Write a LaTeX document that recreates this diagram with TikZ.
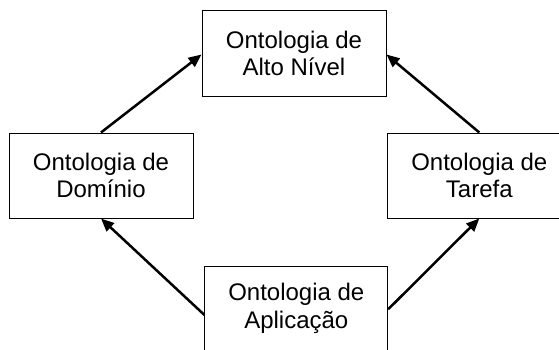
\documentclass[tikz,border=0pt]{standalone}
\usepackage{fontspec}
\setmainfont{Liberation Sans}
\usetikzlibrary{arrows.meta}
\begin{document}
\begin{tikzpicture}[x=1pt,y=1pt,
  box/.style={draw=black, line width=1pt, minimum width=184pt, minimum height=85pt,
    inner sep=0pt, align=center, font=\fontsize{24pt}{27.5pt}\selectfont},
  arr/.style={line width=2.5pt, -{Triangle[length=13pt,width=11pt]}}]
\useasboundingbox (0,0) rectangle (559,349);
\clip (0,0) rectangle (559,349);
\node[box] (top) at (294,295.5) {Ontologia de\\Alto Nível};
\node[box] (left) at (101,173.5) {Ontologia de\\Domínio};
\node[box] (right) at (479.3,173.5) {Ontologia de\\Tarefa};
\node[box, minimum width=182.7pt] (bot) at (296.3,40.5) {Ontologia de\\Aplicação};
\draw[arr] (left.north) -- ([yshift=-1pt]top.west);
\draw[arr] (right.north) -- ([yshift=-1pt]top.east);
\draw[arr] ([yshift=-6.5pt]bot.west) -- (left.south);
\draw[arr] ([yshift=-0.8pt]bot.east) -- (right.south);
\end{tikzpicture}
\end{document}
